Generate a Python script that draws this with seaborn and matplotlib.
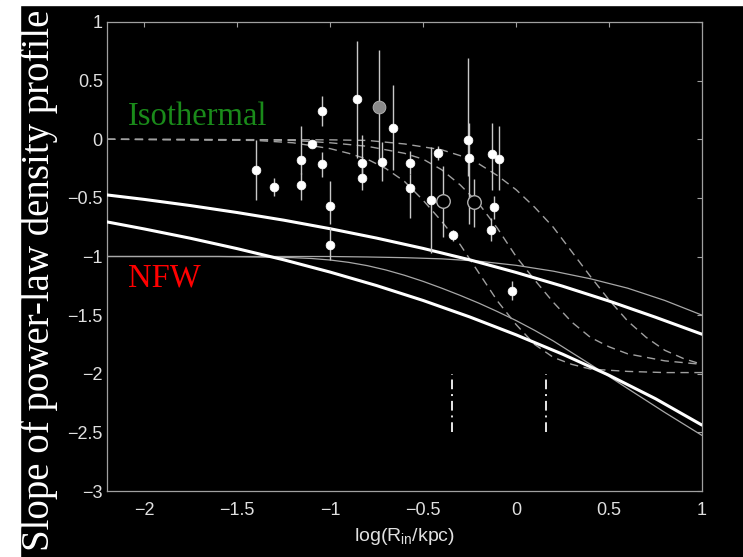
import matplotlib
matplotlib.use("Agg")
import matplotlib.pyplot as plt
import seaborn as sns
import pandas as pd
from matplotlib.patches import Rectangle

# ---------------- data ----------------
thick_upper_x = [-2.2, -2.0, -1.75, -1.5, -1.25, -1.0, -0.75, -0.5, -0.25, 0.0, 0.25, 0.5, 0.75, 1.0]
thick_upper_y = [-0.475, -0.513, -0.566, -0.625, -0.690, -0.763, -0.843, -0.931, -1.028, -1.136, -1.253, -1.380, -1.518, -1.663]

thick_lower_x = [-2.2, -2.0, -1.75, -1.5, -1.25, -1.0, -0.75, -0.5, -0.25, 0.0, 0.25, 0.5, 0.75, 1.0]
thick_lower_y = [-0.705, -0.765, -0.845, -0.933, -1.028, -1.133, -1.248, -1.375, -1.515, -1.668, -1.833, -2.013, -2.213, -2.438]

thin_a_x = [-2.2, -1.5, -1.0, -0.8, -0.6, -0.4, -0.2, 0.0, 0.2, 0.4, 0.6, 0.8, 1.0]
thin_a_y = [-1.0, -1.0, -1.0, -1.004, -1.01, -1.02, -1.04, -1.075, -1.125, -1.19, -1.27, -1.375, -1.50]

thin_b_x = [-2.2, -1.6, -1.4, -1.2, -1.1, -1.0, -0.9, -0.8, -0.7, -0.6, -0.5, -0.4, -0.3, -0.2, -0.1, 0.0,
            0.1, 0.2, 0.4, 0.6, 0.8, 1.0]
thin_b_y = [-1.0, -1.0, -1.004, -1.01, -1.017, -1.03, -1.05, -1.078, -1.115, -1.16, -1.212, -1.27, -1.332,
            -1.398, -1.47, -1.546, -1.63, -1.72, -1.92, -2.126, -2.33, -2.526]

dash_a_x = [-2.2, -1.4, -1.2, -1.0, -0.9, -0.8, -0.7, -0.6, -0.5, -0.4, -0.3, -0.2, -0.1, 0.0, 0.1, 0.2, 0.3, 0.4, 0.6, 0.8, 1.0]
dash_a_y = [0.0, -0.01, -0.03, -0.08, -0.12, -0.17, -0.25, -0.36, -0.52, -0.70, -0.90, -1.14, -1.38, -1.58, -1.75, -1.86, -1.92, -1.96, -1.98, -1.99, -1.99]

dash_b_x = [-2.2, -1.4, -1.2, -1.0, -0.8, -0.6, -0.5, -0.4, -0.3, -0.2, -0.1, 0.0, 0.1, 0.2, 0.3, 0.4, 0.5, 0.6, 0.8, 1.0]
dash_b_y = [0.0, -0.005, -0.01, -0.03, -0.06, -0.12, -0.17, -0.26, -0.39, -0.55, -0.76, -1.0, -1.20, -1.39, -1.56, -1.69, -1.77, -1.83, -1.89, -1.92]

dash_c_x = [-2.2, -1.0, -0.8, -0.6, -0.4, -0.3, -0.2, -0.1, 0.0, 0.1, 0.2, 0.3, 0.4, 0.5, 0.6, 0.7, 0.8, 0.9, 1.0]
dash_c_y = [0.0, -0.005, -0.01, -0.04, -0.09, -0.14, -0.21, -0.31, -0.43, -0.58, -0.75, -0.96, -1.17, -1.37, -1.55, -1.69, -1.80, -1.87, -1.92]

# vertical dash-dot markers
vmark_x = [-0.343, 0.160]
vmark_y0 = [-2.0, -2.0]
vmark_y1 = [-2.5, -2.5]

# white data points with error bars
pts_x = [-1.40, -1.30, -1.157, -1.157, -1.10, -1.046, -1.046, -1.00, -1.00, -0.856, -0.826, -0.826, -0.723,
         -0.661, -0.571, -0.571, -0.46, -0.42, -0.338, -0.261, -0.254, -0.132, -0.12, -0.137, -0.092, -0.022]
pts_y = [-0.26, -0.405, -0.18, -0.39, -0.04, 0.24, -0.21, -0.57, -0.90, 0.34, -0.20, -0.33, -0.19,
         0.10, -0.20, -0.42, -0.52, -0.12, -0.82, -0.01, -0.16, -0.13, -0.58, -0.77, -0.17, -1.29]
pts_err_lo = [0.26, 0.075, 0.12, 0.13, 0.03, 0.13, 0.11, 0.15, 0.13, 0.50, 0.10, 0.10, 0.17,
              0.36, 0.10, 0.25, 0.45, 0.06, 0.05, 0.30, 0.56, 0.30, 0.10, 0.10, 0.26, 0.08]
pts_err_hi = [0.25, 0.075, 0.29, 0.10, 0.03, 0.13, 0.10, 0.21, 0.15, 0.50, 0.24, 0.10, 0.17,
              0.36, 0.10, 0.12, 0.45, 0.06, 0.05, 0.70, 0.30, 0.27, 0.10, 0.10, 0.28, 0.08]

gray_x = [-0.738]
gray_y = [0.272]
gray_err = [0.49]

open_x = [-0.395, -0.225]
open_y = [-0.524, -0.535]
open_err_lo = [0.31, 0.21]
open_err_hi = [0.30, 0.20]

x_ticks = [-2, -1.5, -1, -0.5, 0, 0.5, 1]
y_ticks = [-3, -2.5, -2, -1.5, -1, -0.5, 0, 0.5, 1]

# ---------------- style ----------------
sns.set_theme(style="dark")
plt.rcParams["font.family"] = ["Liberation Sans", "DejaVu Sans"]
plt.rcParams["mathtext.fontset"] = "custom"
plt.rcParams["mathtext.rm"] = "Liberation Sans"
plt.rcParams["axes.unicode_minus"] = True

W, H = 743, 557
fig = plt.figure(figsize=(W / 100, H / 100), dpi=100, facecolor="black")
# white strips of the slide screenshot
fig.add_artist(Rectangle((0, 1 - 5 / H), 1, 5 / H, transform=fig.transFigure, color="white", zorder=0))
fig.add_artist(Rectangle((0, 0), 20 / W, 1, transform=fig.transFigure, color="white", zorder=0))

ax = fig.add_axes([107 / W, 1 - 491 / H, 595 / W, 469 / H], facecolor="black")
ax.grid(False)

thin_col = "#a8a8a8"
dash_col = "#a0a0a0"

for xs, ys in [(thin_a_x, thin_a_y), (thin_b_x, thin_b_y)]:
    sns.lineplot(x=xs, y=ys, ax=ax, color=thin_col, linewidth=0.9, zorder=2)
for xs, ys in [(dash_a_x, dash_a_y), (dash_b_x, dash_b_y), (dash_c_x, dash_c_y)]:
    sns.lineplot(x=xs, y=ys, ax=ax, color=dash_col, linewidth=1.0, linestyle=(0, (6, 4)), zorder=2)
for xs, ys in [(thick_upper_x, thick_upper_y), (thick_lower_x, thick_lower_y)]:
    sns.lineplot(x=xs, y=ys, ax=ax, color="white", linewidth=2.2, zorder=3)

ax.vlines(vmark_x, vmark_y1, vmark_y0, colors="#e8e8e8", linewidth=1.4,
          linestyles=[(0, (5, 2.5, 1, 2.5))], zorder=3)

# error bars
ax.errorbar(pts_x, pts_y, yerr=[pts_err_lo, pts_err_hi], fmt="none", ecolor="#c8c8c8",
            elinewidth=1.0, capsize=0, zorder=4)
ax.errorbar(gray_x, gray_y, yerr=[gray_err, gray_err], fmt="none", ecolor="#c8c8c8",
            elinewidth=1.0, capsize=0, zorder=4)
ax.errorbar(open_x, open_y, yerr=[open_err_lo, open_err_hi], fmt="none", ecolor="#c8c8c8",
            elinewidth=1.0, capsize=0, zorder=4)

sns.scatterplot(x=pts_x, y=pts_y, ax=ax, color="white", edgecolor="white", s=40, zorder=5)
sns.scatterplot(x=gray_x, y=gray_y, ax=ax, color="#8a8a8a", edgecolor="#bbbbbb", linewidth=0.6, s=85, zorder=5)
sns.scatterplot(x=open_x, y=open_y, ax=ax, color="black", edgecolor="#b0b0b0", linewidth=1.0, s=95, zorder=5)

ax.set_xlim(-2.2, 1)
ax.set_ylim(-3, 1)
ax.set_xticks(x_ticks)
ax.set_yticks(y_ticks)
ax.set_xticklabels([("%g" % v).replace("-", "\u2212") for v in x_ticks])
ax.set_yticklabels([("%g" % v).replace("-", "\u2212") for v in y_ticks])
ax.set_xlabel("")
ax.set_ylabel("")

for s in ax.spines.values():
    s.set_color("#a0a0a0")
    s.set_linewidth(0.9)
    s.set_visible(True)
ax.tick_params(direction="in", length=3.8, width=0.8, color="#a0a0a0", top=True, right=True,
               labelcolor="#e0e0e0", labelsize=13)
ax.tick_params(axis="x", pad=8)
ax.tick_params(axis="y", pad=3)

# annotations
serif = ["Liberation Serif", "DejaVu Serif"]
ax.text(-2.088, 0.1215, "Isothermal", color="#1a8a1a", fontsize=23.5, family=serif, va="baseline", ha="left", zorder=6)
ax.text(-2.088, -1.252, "NFW", color="#ff0000", fontsize=23.5, family=serif, va="baseline", ha="left", zorder=6)

fig.text(404.5 / W, 1 - 541 / H, r"log(R$_{\mathregular{in}}$/kpc)", color="#e0e0e0", fontsize=14,
         ha="center", va="baseline")
fig.text(39 / W, 1 - 280 / H, "Slope of power-law density profile", color="white", fontsize=28,
         family=serif, rotation=90, ha="center", va="center")

fig.savefig("out.png", dpi=100, facecolor="black")
